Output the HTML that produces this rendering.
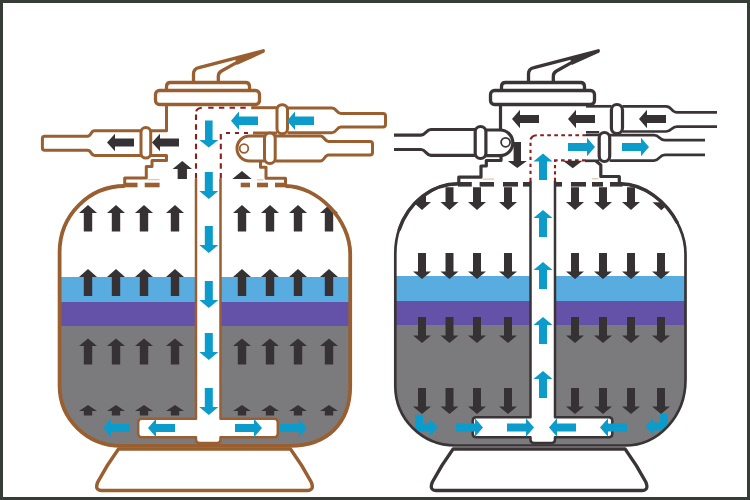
<!DOCTYPE html>
<html><head><meta charset="utf-8"><style>
html,body{margin:0;padding:0;background:#fff;}
body{width:750px;height:500px;overflow:hidden;position:relative;font-family:"Liberation Sans",sans-serif;}
svg{display:block;position:absolute;left:0;top:0;}
</style></head><body>
<svg width="750" height="500" viewBox="0 0 750 500">
<defs>
<clipPath id="c1"><path d="M124.7,186 A65.1,66 0 0 0 59.6,252 V386 A61.4,59.8 0 0 0 121,445.8 H290 C327.3,445.8 350.2,423.1 350.2,386 V254 C350.2,220 317.8,186 285.5,186 Z"/></clipPath>
<clipPath id="c2"><path d="M458.5,183.8 A63.2,70 0 0 0 395.3,253.8 V386 A59.7,59.5 0 0 0 455,445.5 H625 A60.5,65.5 0 0 0 685.5,380 V253.8 C685.5,218.8 653,183.8 620.5,183.8 Z"/></clipPath>
</defs>
<rect x="0" y="0" width="750" height="500" fill="#fff"/>
<g clip-path="url(#c1)">
<rect x="50" y="277" width="300" height="25" fill="#58ace0"/>
<rect x="50" y="302" width="300" height="24" fill="#6352a8"/>
<rect x="50" y="326" width="300" height="140" fill="#7b7b7e"/>
</g>
<g clip-path="url(#c2)">
<rect x="385.5" y="276" width="300" height="25" fill="#58ace0"/>
<rect x="385.5" y="301" width="300" height="24" fill="#6352a8"/>
<rect x="385.5" y="325" width="300" height="140" fill="#7b7b7e"/>
</g>
<g fill="none" stroke="#9a5f30" stroke-width="3.3" stroke-linejoin="round" transform="translate(0,0)">
<path d="M193.5,81 V74 Q193.5,68.6 199,67.6 L263.3,50.8" stroke-linecap="round"/>
<path d="M218.3,81 V76.5 Q218.3,72.8 221.5,71 L236.5,62.6" stroke-linecap="round"/>
<path d="M235,58.3 L263.3,50.8 L264.4,52.6 L236.8,65.1 Z" fill="#9a5f30" stroke="none"/>
<path d="M166.5,90.5 V86.5 Q166.5,82.5 170.5,82.5 H245.5 Q249.5,82.5 249.5,86.5 V90.5"/>
<rect x="155.5" y="90.5" width="104" height="14" rx="4" fill="#fff"/>
</g>
<g fill="none" stroke="#3b3436" stroke-width="3.3" stroke-linejoin="round" transform="translate(335,0)">
<path d="M193.5,81 V74 Q193.5,68.6 199,67.6 L263.3,50.8" stroke-linecap="round"/>
<path d="M218.3,81 V76.5 Q218.3,72.8 221.5,71 L236.5,62.6" stroke-linecap="round"/>
<path d="M235,58.3 L263.3,50.8 L264.4,52.6 L236.8,65.1 Z" fill="#3b3436" stroke="none"/>
<path d="M166.5,90.5 V86.5 Q166.5,82.5 170.5,82.5 H245.5 Q249.5,82.5 249.5,86.5 V90.5"/>
<rect x="155.5" y="90.5" width="104" height="14" rx="4" fill="#fff"/>
</g>
<g transform="translate(0,0)">
<rect x="197" y="178.5" width="22.5" height="261.5" fill="#fff"/>
<g fill="none" stroke="#9a5f30" stroke-width="2.5" stroke-linejoin="round">
<path d="M196,178.5 V418.8 H141.7 Q138.2,418.8 138.2,422.3 V433.7 Q138.2,437.2 141.7,437.2 H196 V439.5 Q196,443 199.5,443 H217 Q220.5,443 220.5,439.5 V437.2 H274.3 Q277.8,437.2 277.8,433.7 V422.3 Q277.8,418.8 274.3,418.8 H220.5 V178.5" fill="#fff"/>
</g>
</g>
<g transform="translate(334.5,0)">
<rect x="197" y="181" width="22.5" height="259" fill="#fff"/>
<g fill="none" stroke="#3b3436" stroke-width="2.5" stroke-linejoin="round">
<path d="M196,181 V417.3 H141.7 Q138.2,417.3 138.2,420.8 V433.7 Q138.2,437.2 141.7,437.2 H196 V439.5 Q196,443 199.5,443 H217 Q220.5,443 220.5,439.5 V437.2 H274.3 Q277.8,437.2 277.8,433.7 V420.8 Q277.8,417.3 274.3,417.3 H220.5 V181" fill="#fff"/>
</g>
</g>
<g fill="none" stroke="#9a5f30" stroke-width="3.0" stroke-linejoin="round">
<path d="M166.5,104.5 V130.8 H150.7"/>
<path d="M141,130.8 H94.5 C90.5,130.8 91.5,136.2 87.5,136.2 H44.7 Q42.4,136.2 42.4,138.5 V148 Q42.4,150.3 44.7,150.3 H87.5 C91.5,150.3 90.5,155.4 94.5,155.4 H141"/>
<rect x="141" y="127.4" width="9.7" height="30.7" rx="4.8" fill="#fff"/>
<path d="M150.7,155.4 H166.5 V160.5 H152 V166.5 H146.3 V178 H124.7 V186"/>
<path d="M251.5,107.7 H277"/>
<path d="M287.5,108 H332 C336.5,108 336.5,113.5 341,113.5 H383 Q385.5,113.5 385.5,116 V124.5 Q385.5,127 383,127 H341 C336.5,127 336.5,132.8 332,132.8 H287.5"/>
<path d="M277,133 H253"/>
<rect x="277" y="104.7" width="10.5" height="29" rx="5" fill="#fff"/>
<path d="M264.5,136 H249.5 A12.5,12.5 0 0 0 249.5,161 H264.5" fill="#fff"/>
<path d="M275.2,136 H320.5 C324.5,136 324.5,141.5 328.5,141.5 H370 Q372.5,141.5 372.5,144 V152.5 Q372.5,155 370,155 H328.5 C324.5,155 324.5,161 320.5,161 H275.2"/>
<rect x="264.5" y="133" width="10.7" height="30.5" rx="5.3" fill="#fff"/>
<path d="M260.5,161 V167.3 H266 V178.3 H285.5 V186"/>
</g>
<circle cx="244" cy="148.5" r="4.3" fill="none" stroke="#9a5f30" stroke-width="1.8"/>
<rect x="124" y="182.7" width="13.5" height="4.6" fill="#9a5f30"/>
<rect x="144.7" y="182.7" width="14.9" height="4.6" fill="#9a5f30"/>
<rect x="240.7" y="182.7" width="9.3" height="4.6" fill="#9a5f30"/>
<rect x="257" y="182.7" width="11" height="4.6" fill="#9a5f30"/>
<rect x="275" y="182.7" width="11" height="4.6" fill="#9a5f30"/>
<rect x="148" y="179.2" width="11.6" height="1" fill="#d9b89a"/>
<rect x="257" y="179.4" width="6.6" height="1" fill="#d9b89a"/>
<g fill="none" stroke="#8e1e1e" stroke-width="2.1">
<path d="M196,178.5 V113.5" stroke-dasharray="5.4 4.35"/>
<path d="M196.2,111.4 Q196.8,108.2 201.8,107.7"/>
<path d="M203,107.8 H251.5" stroke-dasharray="5.4 5.3" stroke-dashoffset="5.5"/>
<path d="M220.8,178.5 V133.5" stroke-dasharray="5.4 4.35"/>
<path d="M224.5,133 H251.5" stroke-dasharray="4 5" stroke-dashoffset="7.5"/>
</g>
<g fill="none" stroke="#3b3436" stroke-width="3.2" stroke-linejoin="round">
<path d="M500.5,104.5 V130"/>
<path d="M486,130 H500 A12.8,12.8 0 0 1 500,155.6 H486" fill="#fff"/>
<path d="M476.5,129.5 H431 C426,129.5 426,135.1 421,135.1 H394"/>
<path d="M394,149.5 H421 C426,149.5 426,155.4 431,155.4 H476.5"/>
<rect x="475.2" y="126.5" width="10.7" height="32" rx="5.3" fill="#fff"/>
<path d="M501,155.6 V160.5 H486.3 V166 H481 V177.2 H458.8 V184.5"/>
<g stroke-width="2.7">
<path d="M586,106.3 H611.4"/>
<path d="M622.5,106.3 H666 C672,106.3 671,112.3 677,112.3 H717"/>
<path d="M717,126.6 H677 C671,126.6 672,131.5 666,131.5 H622.5"/>
<rect x="611.4" y="104.5" width="11.1" height="29" rx="5.5" fill="#fff" stroke-width="3.2"/>
<path d="M586,134.9 H599.2"/>
<path d="M586,132.1 H599.2" stroke-width="2.2"/>
<path d="M609.7,135.2 H654 C660,135.2 659,140.2 665,140.2 H705"/>
<path d="M705,154.8 H665 C659,154.8 660,160.6 654,160.6 H609.7"/>
<path d="M585,160.8 H599.2"/>
<rect x="599.2" y="132.5" width="10.5" height="29" rx="5.2" fill="#fff" stroke-width="3.2"/>
</g>
<path d="M596,161 L600.8,165 V176.5 H619.3 V184.5"/>
</g>
<circle cx="505.6" cy="142.3" r="4.5" fill="none" stroke="#3b3436" stroke-width="1.8"/>
<rect x="458" y="182" width="13.8" height="4.6" fill="#3b3436"/>
<rect x="479.6" y="182" width="14.4" height="4.6" fill="#3b3436"/>
<rect x="503" y="182" width="15" height="4.6" fill="#3b3436"/>
<rect x="523" y="182" width="7.5" height="4.6" fill="#3b3436"/>
<rect x="555" y="182" width="7" height="4.6" fill="#3b3436"/>
<rect x="571" y="182" width="15" height="4.6" fill="#3b3436"/>
<rect x="592" y="182" width="11" height="4.6" fill="#3b3436"/>
<rect x="610" y="182" width="12.5" height="4.6" fill="#3b3436"/>
<rect x="482.6" y="178.6" width="11.4" height="1" fill="#d9b89a"/>
<rect x="592" y="178.3" width="6.5" height="1" fill="#d9b89a"/>
<g fill="none" stroke="#8e1e1e" stroke-width="2.1">
<path d="M530.5,181 V141" stroke-dasharray="3.3 3.7"/>
<path d="M530.6,139.6 Q531.5,135.6 536.8,135.2"/>
<path d="M537,135.2 H586" stroke-dasharray="3.7 3.33" stroke-dashoffset="3.83"/>
<path d="M555,181 V160.6" stroke-dasharray="3.3 3.1"/>
<path d="M554,160.4 H586" stroke-dasharray="3.6 3.4"/>
</g>
<polygon fill="#0c9ccb" points="231,120.75 239,111.4 239,116.6 258,116.6 258,124.9 239,124.9 239,130.1"/>
<polygon fill="#0c9ccb" points="287,120.75 295,111.4 295,116.6 314,116.6 314,124.9 295,124.9 295,130.1"/>
<polygon fill="#0c9ccb" points="208.8,147.5 218.3,140 212.6,140 212.6,120.5 205,120.5 205,140 199.3,140"/>
<polygon fill="#0c9ccb" points="208.8,199 218.3,191 212.8,191 212.8,172 204.8,172 204.8,191 199.3,191"/>
<polygon fill="#0c9ccb" points="208.8,253 218.3,245 212.8,245 212.8,226 204.8,226 204.8,245 199.3,245"/>
<polygon fill="#0c9ccb" points="208.8,308 218.3,300 212.8,300 212.8,281 204.8,281 204.8,300 199.3,300"/>
<polygon fill="#0c9ccb" points="208.8,360 218.3,352 212.8,352 212.8,333 204.8,333 204.8,352 199.3,352"/>
<polygon fill="#0c9ccb" points="208.8,415 218.3,407 212.8,407 212.8,388 204.8,388 204.8,407 199.3,407"/>
<polygon fill="#0c9ccb" points="148,428 156,418.75 156,424 175,424 175,432 156,432 156,437.25"/>
<polygon fill="#0c9ccb" points="103,428 111,418.75 111,424 130,424 130,432 111,432 111,437.25"/>
<polygon fill="#0c9ccb" points="262,428 254,418.75 254,424 235,424 235,432 254,432 254,437.25"/>
<polygon fill="#0c9ccb" points="307,428 299,418.75 299,424 280,424 280,432 299,432 299,437.25"/>
<polygon fill="#363234" points="107,142.5 115,133.75 115,138.5 134,138.5 134,146.5 115,146.5 115,151.25"/>
<polygon fill="#363234" points="152,142.5 160,133.75 160,138.5 179,138.5 179,146.5 160,146.5 160,151.25"/>
<polygon fill="#363234" points="182.3,161 192,169 186.95,169 186.95,179 177.65,179 177.65,169 172.6,169"/>
<polygon fill="#363234" points="242,171 251.7,179 232.3,179"/>
<polygon fill="#363234" points="88,205 97,213 92.2,213 92.2,231.6 83.8,231.6 83.8,213 79,213"/>
<polygon fill="#363234" points="88,269 97,277 92.2,277 92.2,296 83.8,296 83.8,277 79,277"/>
<polygon fill="#363234" points="88,338.6 97,346.1 92.2,346.1 92.2,364.6 83.8,364.6 83.8,346.1 79,346.1"/>
<polygon fill="#363234" points="88,405 97,411 92.2,411 92.2,415.6 83.8,415.6 83.8,411 79,411"/>
<polygon fill="#363234" points="116,205 125,213 120.2,213 120.2,231.6 111.8,231.6 111.8,213 107,213"/>
<polygon fill="#363234" points="116,269 125,277 120.2,277 120.2,296 111.8,296 111.8,277 107,277"/>
<polygon fill="#363234" points="116,338.6 125,346.1 120.2,346.1 120.2,364.6 111.8,364.6 111.8,346.1 107,346.1"/>
<polygon fill="#363234" points="116,405 125,411 120.2,411 120.2,415.6 111.8,415.6 111.8,411 107,411"/>
<polygon fill="#363234" points="144,205 153,213 148.2,213 148.2,231.6 139.8,231.6 139.8,213 135,213"/>
<polygon fill="#363234" points="144,269 153,277 148.2,277 148.2,296 139.8,296 139.8,277 135,277"/>
<polygon fill="#363234" points="144,338.6 153,346.1 148.2,346.1 148.2,364.6 139.8,364.6 139.8,346.1 135,346.1"/>
<polygon fill="#363234" points="144,405 153,411 148.2,411 148.2,415.6 139.8,415.6 139.8,411 135,411"/>
<polygon fill="#363234" points="175,205 184,213 179.2,213 179.2,231.6 170.8,231.6 170.8,213 166,213"/>
<polygon fill="#363234" points="175,269 184,277 179.2,277 179.2,296 170.8,296 170.8,277 166,277"/>
<polygon fill="#363234" points="175,338.6 184,346.1 179.2,346.1 179.2,364.6 170.8,364.6 170.8,346.1 166,346.1"/>
<polygon fill="#363234" points="175,405 184,411 179.2,411 179.2,415.6 170.8,415.6 170.8,411 166,411"/>
<polygon fill="#363234" points="242,205 251,213 246.2,213 246.2,231.6 237.8,231.6 237.8,213 233,213"/>
<polygon fill="#363234" points="242,269 251,277 246.2,277 246.2,296 237.8,296 237.8,277 233,277"/>
<polygon fill="#363234" points="242,338.6 251,346.1 246.2,346.1 246.2,364.6 237.8,364.6 237.8,346.1 233,346.1"/>
<polygon fill="#363234" points="242,405 251,411 246.2,411 246.2,415.6 237.8,415.6 237.8,411 233,411"/>
<polygon fill="#363234" points="270,205 279,213 274.2,213 274.2,231.6 265.8,231.6 265.8,213 261,213"/>
<polygon fill="#363234" points="270,269 279,277 274.2,277 274.2,296 265.8,296 265.8,277 261,277"/>
<polygon fill="#363234" points="270,338.6 279,346.1 274.2,346.1 274.2,364.6 265.8,364.6 265.8,346.1 261,346.1"/>
<polygon fill="#363234" points="270,405 279,411 274.2,411 274.2,415.6 265.8,415.6 265.8,411 261,411"/>
<polygon fill="#363234" points="298,205 307,213 302.2,213 302.2,231.6 293.8,231.6 293.8,213 289,213"/>
<polygon fill="#363234" points="298,269 307,277 302.2,277 302.2,296 293.8,296 293.8,277 289,277"/>
<polygon fill="#363234" points="298,338.6 307,346.1 302.2,346.1 302.2,364.6 293.8,364.6 293.8,346.1 289,346.1"/>
<polygon fill="#363234" points="298,405 307,411 302.2,411 302.2,415.6 293.8,415.6 293.8,411 289,411"/>
<polygon fill="#363234" points="329,205 338,213 333.2,213 333.2,231.6 324.8,231.6 324.8,213 320,213"/>
<polygon fill="#363234" points="329,269 338,277 333.2,277 333.2,296 324.8,296 324.8,277 320,277"/>
<polygon fill="#363234" points="329,338.6 338,346.1 333.2,346.1 333.2,364.6 324.8,364.6 324.8,346.1 320,346.1"/>
<polygon fill="#363234" points="329,405 338,411 333.2,411 333.2,415.6 324.8,415.6 324.8,411 320,411"/>
<polygon fill="#0c9ccb" points="543,153.6 552.6,161.6 547,161.6 547,180.1 539,180.1 539,161.6 533.4,161.6"/>
<polygon fill="#0c9ccb" points="543,210 552.5,218 547,218 547,237 539,237 539,218 533.5,218"/>
<polygon fill="#0c9ccb" points="543,262 552.5,270 547,270 547,289 539,289 539,270 533.5,270"/>
<polygon fill="#0c9ccb" points="543,317 552.5,325 547,325 547,344 539,344 539,325 533.5,325"/>
<polygon fill="#0c9ccb" points="543,371 552.5,379 547,379 547,398 539,398 539,379 533.5,379"/>
<polygon fill="#0c9ccb" points="595,147 587,137.75 587,143 568,143 568,151 587,151 587,156.25"/>
<polygon fill="#0c9ccb" points="649,147 641,137.75 641,143 622,143 622,151 641,151 641,156.25"/>
<polygon fill="#0c9ccb" points="534,427.5 526,418.25 526,423.5 507,423.5 507,431.5 526,431.5 526,436.75"/>
<polygon fill="#0c9ccb" points="483,427.5 475,418.25 475,423.5 456,423.5 456,431.5 475,431.5 475,436.75"/>
<polygon fill="#0c9ccb" points="549,427.5 557,418.25 557,423.5 576,423.5 576,431.5 557,431.5 557,436.75"/>
<polygon fill="#0c9ccb" points="600,427.5 608,418.25 608,423.5 627,423.5 627,431.5 608,431.5 608,436.75"/>
<path fill="#0c9ccb" d="M415,414.8 H423 V423.5 H429.8 V419 L437.8,427.5 L429.8,436 V431.5 H420 Q415,431.5 415,426.5 Z"/>
<g clip-path="url(#c2)"><path fill="#0c9ccb" d="M668,413.8 H660 V422.5 H653.2 V418 L645.2,426.5 L653.2,435 V430.5 H663 Q668,430.5 668,425.5 Z"/></g>
<polygon fill="#363234" points="512,119 520,109.75 520,115 539,115 539,123 520,123 520,128.25"/>
<polygon fill="#363234" points="568,119 576,109.75 576,115 595,115 595,123 576,123 576,128.25"/>
<polygon fill="#363234" points="639,119 647,109.75 647,115 666,115 666,123 647,123 647,128.25"/>
<polygon fill="#363234" points="517.3,168 526.8,161 521,161 521,142 513.6,142 513.6,161 507.8,161"/>
<polygon fill="#363234" points="563,160.7 582.5,160.7 572.75,168.2"/>
<g clip-path="url(#c2)">
<polygon fill="#363234" points="422,210 431,202 426,202 426,187.2 418,187.2 418,202 413,202"/>
<polygon fill="#363234" points="422,279 431,271.5 426,271.5 426,253 418,253 418,271.5 413,271.5"/>
<polygon fill="#363234" points="422,343 431,335.5 426,335.5 426,317 418,317 418,335.5 413,335.5"/>
<polygon fill="#363234" points="422,414 431,406.5 426,406.5 426,388 418,388 418,406.5 413,406.5"/>
<polygon fill="#363234" points="449.5,210 458.5,202 453.5,202 453.5,187.2 445.5,187.2 445.5,202 440.5,202"/>
<polygon fill="#363234" points="449.5,279 458.5,271.5 453.5,271.5 453.5,253 445.5,253 445.5,271.5 440.5,271.5"/>
<polygon fill="#363234" points="449.5,343 458.5,335.5 453.5,335.5 453.5,317 445.5,317 445.5,335.5 440.5,335.5"/>
<polygon fill="#363234" points="449.5,414 458.5,406.5 453.5,406.5 453.5,388 445.5,388 445.5,406.5 440.5,406.5"/>
<polygon fill="#363234" points="477,210 486,202 481,202 481,187.2 473,187.2 473,202 468,202"/>
<polygon fill="#363234" points="477,279 486,271.5 481,271.5 481,253 473,253 473,271.5 468,271.5"/>
<polygon fill="#363234" points="477,343 486,335.5 481,335.5 481,317 473,317 473,335.5 468,335.5"/>
<polygon fill="#363234" points="477,414 486,406.5 481,406.5 481,388 473,388 473,406.5 468,406.5"/>
<polygon fill="#363234" points="508,210 517,202 512,202 512,187.2 504,187.2 504,202 499,202"/>
<polygon fill="#363234" points="508,279 517,271.5 512,271.5 512,253 504,253 504,271.5 499,271.5"/>
<polygon fill="#363234" points="508,343 517,335.5 512,335.5 512,317 504,317 504,335.5 499,335.5"/>
<polygon fill="#363234" points="508,414 517,406.5 512,406.5 512,388 504,388 504,406.5 499,406.5"/>
<polygon fill="#363234" points="575,210 584,202 579,202 579,187.2 571,187.2 571,202 566,202"/>
<polygon fill="#363234" points="575,279 584,271.5 579,271.5 579,253 571,253 571,271.5 566,271.5"/>
<polygon fill="#363234" points="575,343 584,335.5 579,335.5 579,317 571,317 571,335.5 566,335.5"/>
<polygon fill="#363234" points="575,414 584,406.5 579,406.5 579,388 571,388 571,406.5 566,406.5"/>
<polygon fill="#363234" points="603,210 612,202 607,202 607,187.2 599,187.2 599,202 594,202"/>
<polygon fill="#363234" points="603,279 612,271.5 607,271.5 607,253 599,253 599,271.5 594,271.5"/>
<polygon fill="#363234" points="603,343 612,335.5 607,335.5 607,317 599,317 599,335.5 594,335.5"/>
<polygon fill="#363234" points="603,414 612,406.5 607,406.5 607,388 599,388 599,406.5 594,406.5"/>
<polygon fill="#363234" points="631,210 640,202 635,202 635,187.2 627,187.2 627,202 622,202"/>
<polygon fill="#363234" points="631,279 640,271.5 635,271.5 635,253 627,253 627,271.5 622,271.5"/>
<polygon fill="#363234" points="631,343 640,335.5 635,335.5 635,317 627,317 627,335.5 622,335.5"/>
<polygon fill="#363234" points="631,414 640,406.5 635,406.5 635,388 627,388 627,406.5 622,406.5"/>
<polygon fill="#363234" points="652.5,202.3 670,202.3 661.3,210.3"/>
<polygon fill="#363234" points="661,279 670,271.5 665,271.5 665,253 657,253 657,271.5 652,271.5"/>
<polygon fill="#363234" points="661,343 670,335.5 665,335.5 665,317 657,317 657,335.5 652,335.5"/>
<polygon fill="#363234" points="661,414 670,406.5 665,406.5 665,388 657,388 657,406.5 652,406.5"/>
</g>
<path d="M124.7,186 A65.1,66 0 0 0 59.6,252 V386 A61.4,59.8 0 0 0 121,445.8 H290 C327.3,445.8 350.2,423.1 350.2,386 V254 C350.2,220 317.8,186 285.5,186" fill="none" stroke="#9a5f30" stroke-width="3.8"/>
<g transform="translate(0,0)" fill="none" stroke="#9a5f30" stroke-width="3.5" stroke-linejoin="round">
<path d="M118.5,449 Q106.5,465.5 97.8,482 Q94.3,490.5 101.8,490.5 H307.2 Q314.7,490.5 311.2,482 Q302.5,465.5 290.5,449 Z"/>
</g>
<path d="M458.5,183.8 A63.2,70 0 0 0 395.3,253.8 V386 A59.7,59.5 0 0 0 455,445.5 H625 A60.5,65.5 0 0 0 685.5,380 V253.8 C685.5,218.8 653,183.8 620.5,183.8" fill="none" stroke="#3b3436" stroke-width="2.7"/>
<g transform="translate(334.6,0)" fill="none" stroke="#3b3436" stroke-width="3.3" stroke-linejoin="round">
<path d="M118.5,449 Q106.5,465.5 97.8,482 Q94.3,490.5 101.8,490.5 H307.2 Q314.7,490.5 311.2,482 Q302.5,465.5 290.5,449 Z"/>
</g>
<path d="M458.5,183.8 A63.2,70 0 0 0 399,230.2 M677.6,223.25 C666,200.95 643.25,183.8 620.5,183.8" fill="none" stroke="#3b3436" stroke-width="3.4"/>
<rect x="1.5" y="1.5" width="747" height="497" fill="none" stroke="#363c36" stroke-width="3"/>
</svg>
</body></html>
